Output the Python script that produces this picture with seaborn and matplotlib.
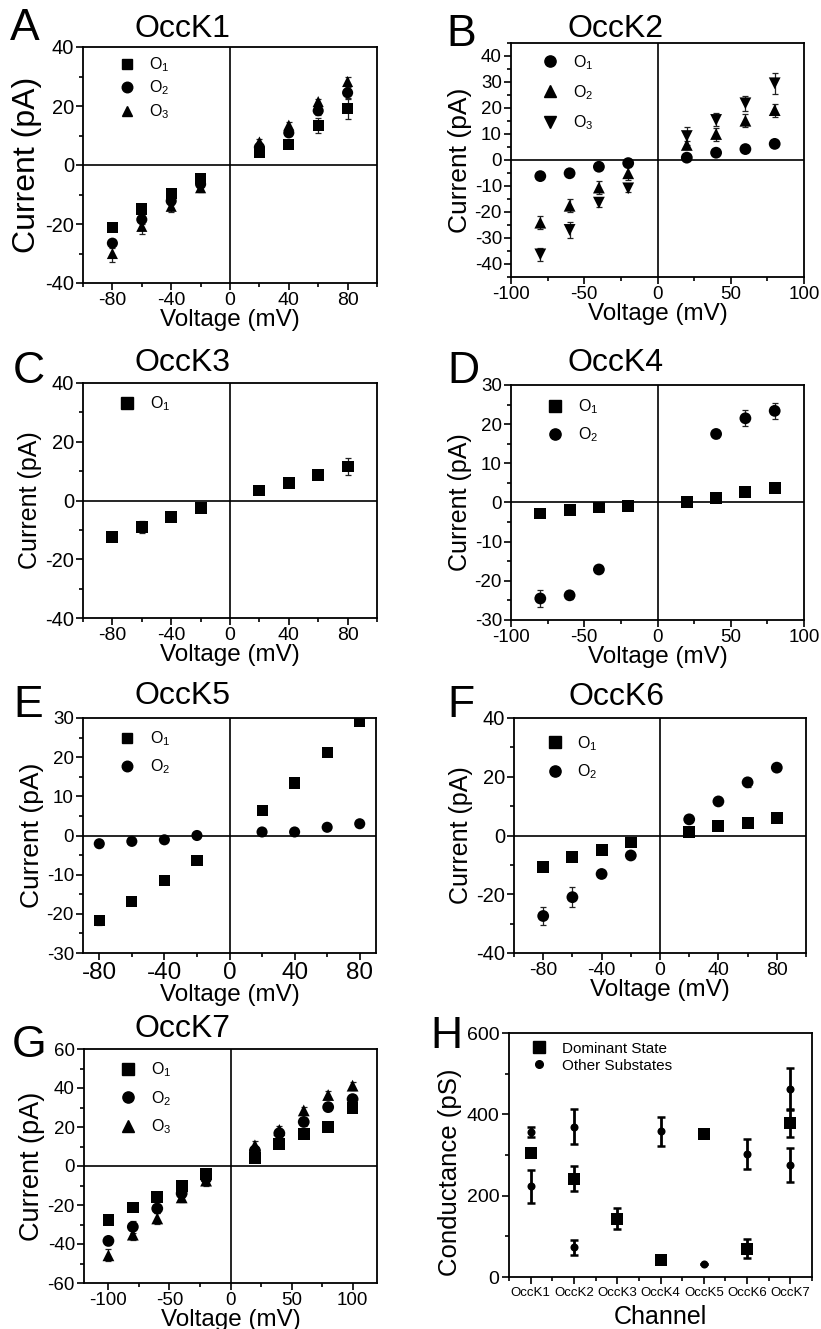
import numpy as np
import pandas as pd
import matplotlib
matplotlib.use("Agg")
import matplotlib.pyplot as plt
import seaborn as sns
from matplotlib.lines import Line2D
from matplotlib.ticker import MultipleLocator

sns.set_theme(style="ticks")
plt.rcParams["font.family"] = ["Liberation Sans", "DejaVu Sans"]
plt.rcParams["mathtext.fontset"] = "custom"
plt.rcParams["mathtext.rm"] = "Liberation Sans"
plt.rcParams["mathtext.it"] = "Liberation Sans:italic"
plt.rcParams["mathtext.default"] = "regular"
plt.rcParams["axes.unicode_minus"] = False
for k in ["text.color", "axes.labelcolor", "xtick.color", "ytick.color", "axes.edgecolor"]:
    plt.rcParams[k] = "black"

# ---------------- data ----------------
V8 = [-80, -60, -40, -20, 20, 40, 60, 80]
V10 = [-100, -80, -60, -40, -20, 20, 40, 60, 80, 100]
V_D_O2 = [-80, -60, -40, 40, 60, 80]

# A  OccK1
A_O1 = [-21.1, -14.9, -9.7, -4.5, 4.1, 7.0, 13.4, 19.1]
A_O1e = [1.0, 1.0, 1.0, 1.0, 1.0, 1.0, 2.5, 3.5]
A_O2 = [-26.5, -18.5, -12.2, -6.5, 6.0, 10.9, 18.4, 24.5]
A_O2e = [1.5, 1.5, 1.5, 1.0, 1.0, 1.0, 1.5, 2.0]
A_O3 = [-30.0, -20.8, -14.0, -7.7, 7.8, 13.5, 21.5, 28.3]
A_O3e = [3.0, 2.7, 1.8, 1.5, 1.0, 1.0, 1.0, 1.5]

# B  OccK2
B_O1 = [-6.2, -5.1, -2.6, -1.2, 0.9, 2.8, 4.2, 6.2]
B_O1e = [0.5, 0.5, 0.5, 0.5, 0.5, 0.5, 0.5, 0.5]
B_O2 = [-24.1, -17.6, -10.6, -5.1, 5.8, 10.0, 15.1, 19.2]
B_O2e = [2.5, 2.5, 2.5, 2.5, 1.5, 2.5, 2.5, 2.5]
B_O3 = [-36.3, -26.9, -16.4, -10.9, 9.2, 15.4, 21.8, 29.5]
B_O3e = [2.5, 3.0, 1.5, 1.5, 3.5, 2.5, 3.0, 4.0]

# C  OccK3
C_O1 = [-12.3, -9.1, -5.7, -2.6, 3.4, 5.9, 8.75, 11.6]
C_O1e = [1.0, 2.0, 1.0, 0.5, 0.5, 0.5, 1.0, 2.8]

# D  OccK4
D_O1 = [-2.8, -2.0, -1.3, -0.8, 0.1, 1.2, 2.6, 3.7]
D_O1e = [0.3, 0.3, 0.3, 0.3, 0.3, 0.3, 0.3, 0.3]
D_O2 = [-24.5, -23.7, -17.1, 17.5, 21.5, 23.4]
D_O2e = [2.1, 1.0, 0.5, 1.0, 2.0, 2.0]

# E  OccK5
E_O1 = [-21.7, -16.8, -11.5, -6.3, 6.4, 13.4, 21.3, 29.0]
E_O1e = [1.2, 0.5, 0.5, 0.5, 0.5, 0.5, 0.5, 0.5]
E_O2 = [-2.1, -1.5, -1.1, 0.0, 0.9, 0.9, 2.1, 3.0]
E_O2e = [0.3, 0.3, 0.3, 0.3, 0.3, 0.3, 0.3, 0.3]

# F  OccK6
F_O1 = [-10.6, -7.2, -4.9, -2.4, 1.25, 3.3, 4.2, 5.9]
F_O1e = [0.5, 0.5, 0.5, 0.5, 0.5, 0.5, 0.5, 0.5]
F_O2 = [-27.4, -21.0, -13.1, -6.8, 5.5, 11.6, 18.1, 23.1]
F_O2e = [3.0, 3.5, 1.0, 1.0, 1.0, 1.0, 1.5, 1.0]

# G  OccK7
G_O1 = [-27.8, -21.3, -15.8, -10.3, -4.3, 4.3, 11.1, 16.5, 20.2, 29.7]
G_O1e = [2.0, 1.5, 1.5, 1.5, 1.5, 1.0, 1.5, 1.5, 2.5, 2.0]
G_O2 = [-38.4, -31.2, -21.8, -14.1, -6.3, 7.9, 16.8, 22.6, 30.2, 34.3]
G_O2e = [2.0, 3.0, 2.5, 2.0, 2.0, 2.0, 2.0, 2.0, 2.0, 2.0]
G_O3 = [-45.8, -35.2, -26.9, -16.1, -7.5, 10.6, 18.5, 28.5, 36.4, 41.2]
G_O3e = [3.0, 3.0, 3.0, 2.5, 3.0, 2.0, 2.0, 2.0, 2.0, 2.0]

# H  conductance
channels = ["OccK1", "OccK2", "OccK3", "OccK4", "OccK5", "OccK6", "OccK7"]
dom_G = [306, 242, 143, 43, 351, 70, 379]
dom_Ge = [8, 30, 26, 5, 8, 24, 35]
sub_channels = ["OccK1", "OccK1", "OccK2", "OccK2", "OccK4", "OccK5", "OccK6", "OccK7", "OccK7"]
sub_G = [357, 223, 370, 73, 358, 33, 302, 463, 276]
sub_Ge = [13, 40, 43, 18, 36, 0, 37, 52, 42]

# ---------------- layout ----------------
W, H = 821, 1329
fig = plt.figure(figsize=(W / 100, H / 100), dpi=100)


def add_ax(l, r, t, b):
    return fig.add_axes([l / W, 1 - b / H, (r - l) / W, (b - t) / H])


def style_ax(ax, xlim, ylim, xmaj, xmin, ymaj, ymin, xtick_fs, ytick_fs):
    ax.set_xlim(*xlim)
    ax.set_ylim(*ylim)
    ax.xaxis.set_major_locator(MultipleLocator(xmaj))
    ax.xaxis.set_minor_locator(MultipleLocator(xmin))
    ax.yaxis.set_major_locator(MultipleLocator(ymaj))
    ax.yaxis.set_minor_locator(MultipleLocator(ymin))
    for s in ax.spines.values():
        s.set_linewidth(1.3)
        s.set_color("black")
    ax.tick_params(which="both", direction="out", top=False, right=False,
                   width=1.2, colors="black")
    ax.tick_params(which="major", length=5, pad=1.5)
    ax.tick_params(which="minor", length=3)
    ax.tick_params(axis="y", labelsize=ytick_fs)
    ax.tick_params(axis="x", labelsize=xtick_fs)


panels = [
    dict(letter="A", title="OccK1", rect=(83, 377, 47, 283), xlim=(-100, 100), ylim=(-40, 40),
         xt=(40, 20), yt=(20, 10), ylfs=23, tfs=(14, 14.5),
         series=[(V8, A_O1, A_O1e, "s", "O$_1$"), (V8, A_O2, A_O2e, "o", "O$_2$"),
                 (V8, A_O3, A_O3e, "^", "O$_3$")],
         leg=(0.122, 0.965), lspace=0.3, ms=8.0, let=(10, 40), tit=(182, 37)),
    dict(letter="B", title="OccK2", rect=(511, 804, 43, 277), xlim=(-100, 100), ylim=(-45, 45),
         xt=(50, 25), yt=(10, 5), ylfs=19, tfs=(13.5, 13.5),
         series=[(V8, B_O1, B_O1e, "o", "O$_1$"), (V8, B_O2, B_O2e, "^", "O$_2$"),
                 (V8, B_O3, B_O3e, "v", "O$_3$")],
         leg=(0.107, 0.958), lspace=0.72, ms=8.5, let=(446, 46), tit=(616, 37)),
    dict(letter="C", title="OccK3", rect=(83, 377, 383, 618), xlim=(-100, 100), ylim=(-40, 40),
         xt=(40, 20), yt=(20, 10), ylfs=18, tfs=(14, 14.5),
         series=[(V8, C_O1, C_O1e, "s", "O$_1$")],
         leg=(0.124, 0.952), lspace=0.5, ms=8.5, let=(13, 383), tit=(182, 371)),
    dict(letter="D", title="OccK4", rect=(511, 804, 385, 620), xlim=(-100, 100), ylim=(-30, 30),
         xt=(50, 25), yt=(10, 5), ylfs=18, tfs=(13.5, 13.5),
         series=[(V8, D_O1, D_O1e, "s", "O$_1$"), (V_D_O2, D_O2, D_O2e, "o", "O$_2$")],
         leg=(0.124, 0.948), lspace=0.6, ms=8.5, let=(447, 383), tit=(616, 371)),
    dict(letter="E", title="OccK5", rect=(83, 376, 718, 953), xlim=(-90, 90), ylim=(-30, 30),
         xt=(40, 20), yt=(10, 5), ylfs=19, tfs=(17.5, 13.5),
         series=[(V8, E_O1, E_O1e, "s", "O$_1$"), (V8, E_O2, E_O2e, "o", "O$_2$")],
         leg=(0.124, 0.952), lspace=0.6, ms=8.0, let=(13, 717), tit=(182, 704)),
    dict(letter="F", title="OccK6", rect=(514, 806, 718, 953), xlim=(-100, 100), ylim=(-40, 40),
         xt=(40, 20), yt=(20, 10), ylfs=18, tfs=(14, 14.5),
         series=[(V8, F_O1, F_O1e, "s", "O$_1$"), (V8, F_O2, F_O2e, "o", "O$_2$")],
         leg=(0.112, 0.932), lspace=0.6, ms=8.5, let=(447, 717), tit=(616, 705)),
    dict(letter="G", title="OccK7", rect=(84, 377, 1049, 1283), xlim=(-120, 120), ylim=(-60, 60),
         xt=(50, 25), yt=(20, 10), ylfs=19.5, tfs=(13.5, 13.5),
         series=[(V10, G_O1, G_O1e, "s", "O$_1$"), (V10, G_O2, G_O2e, "o", "O$_2$"),
                 (V10, G_O3, G_O3e, "^", "O$_3$")],
         leg=(0.124, 0.952), lspace=0.62, ms=8.5, let=(12, 1057), tit=(182, 1037)),
]

for p in panels:
    ax = add_ax(*p["rect"])
    ax.axhline(0, color="black", lw=1.2, zorder=1)
    ax.axvline(0, color="black", lw=1.2, zorder=1)
    rows = []
    for v, i, e, m, lab in p["series"]:
        for vv, ii in zip(v, i):
            rows.append({"V": vv, "I": ii, "state": lab})
    df = pd.DataFrame(rows)
    for v, i, e, m, lab in p["series"]:
        ax.errorbar(v, i, yerr=e, fmt="none", ecolor="#222222", elinewidth=0.9,
                    capsize=2, capthick=0.9, zorder=2)
    markers = {lab: m for v, i, e, m, lab in p["series"]}
    sns.scatterplot(data=df, x="V", y="I", style="state", markers=markers,
                    color="black", s=p["ms"] ** 2, edgecolor="black", linewidth=0,
                    legend=False, ax=ax, zorder=3)
    style_ax(ax, p["xlim"], p["ylim"], *p["xt"], *p["yt"], *p["tfs"])
    ax.set_xlabel("Voltage (mV)", fontsize=17.5, labelpad=0)
    ax.set_ylabel("Current (pA)", fontsize=p["ylfs"], labelpad=2)
    handles = [Line2D([], [], ls="none", marker=m, color="black", markersize=p["ms"] * 0.95)
               for v, i, e, m, lab in p["series"]]
    labels = [lab for v, i, e, m, lab in p["series"]]
    ax.legend(handles, labels, loc="upper left", bbox_to_anchor=p["leg"], frameon=False,
              fontsize=11.5, handlelength=1.0, handletextpad=0.9,
              labelspacing=p["lspace"], borderaxespad=0, borderpad=0)
    fig.text(p["let"][0] / W, 1 - p["let"][1] / H, p["letter"], fontsize=32,
             ha="left", va="baseline")
    fig.text(p["tit"][0] / W, 1 - p["tit"][1] / H, p["title"], fontsize=23,
             ha="center", va="baseline")

# ---------------- panel H ----------------
axh = add_ax(509, 812, 1033, 1277)
pos = {c: k for k, c in enumerate(channels)}
dfd = pd.DataFrame({"Channel": channels, "G": dom_G, "kind": "Dominant State"})
dfs = pd.DataFrame({"Channel": sub_channels, "G": sub_G, "kind": "Other Substates"})
axh.errorbar([pos[c] for c in sub_channels], sub_G, yerr=sub_Ge, fmt="none",
             ecolor="black", elinewidth=2, capsize=3, capthick=1.8, zorder=2)
axh.errorbar([pos[c] for c in channels], dom_G, yerr=dom_Ge, fmt="none",
             ecolor="black", elinewidth=2, capsize=3, capthick=1.8, zorder=2)
sns.scatterplot(data=dfd, x="Channel", y="G", marker="s", color="black", s=9 ** 2,
                linewidth=0, legend=False, ax=axh, zorder=3)
sns.scatterplot(data=dfs, x="Channel", y="G", marker="o", color="black", s=5.8 ** 2,
                linewidth=0, legend=False, ax=axh, zorder=3)
axh.set_xlim(-0.5, 6.5)
axh.set_ylim(0, 600)
axh.set_xticks(range(len(channels)))
axh.set_xticklabels(channels)
axh.xaxis.set_minor_locator(MultipleLocator(0.5))
axh.yaxis.set_major_locator(MultipleLocator(200))
axh.yaxis.set_minor_locator(MultipleLocator(100))
for s in axh.spines.values():
    s.set_linewidth(1.3)
    s.set_color("black")
axh.tick_params(which="both", direction="out", top=False, right=False, width=1.2, colors="black")
axh.tick_params(which="major", length=5, pad=2)
axh.tick_params(which="minor", length=3)
axh.tick_params(axis="y", labelsize=14)
axh.tick_params(axis="x", labelsize=9.5)
axh.set_xlabel("Channel", fontsize=18, labelpad=4.5)
axh.set_ylabel("Conductance (pS)", fontsize=18.5, labelpad=3)
axh.yaxis.label.set_y(0.43)
hh = [Line2D([], [], ls="none", marker="s", color="black", markersize=8.5),
      Line2D([], [], ls="none", marker="o", color="black", markersize=5.5)]
axh.legend(hh, ["Dominant State", "Other Substates"], loc="upper left",
           bbox_to_anchor=(0.075, 0.965), frameon=False, fontsize=11,
           handlelength=1.0, handletextpad=1.0, labelspacing=0.2,
           borderaxespad=0, borderpad=0)
fig.text(430 / W, 1 - 1048 / H, "H", fontsize=32, ha="left", va="baseline")

fig.savefig("out.png", dpi=100)
